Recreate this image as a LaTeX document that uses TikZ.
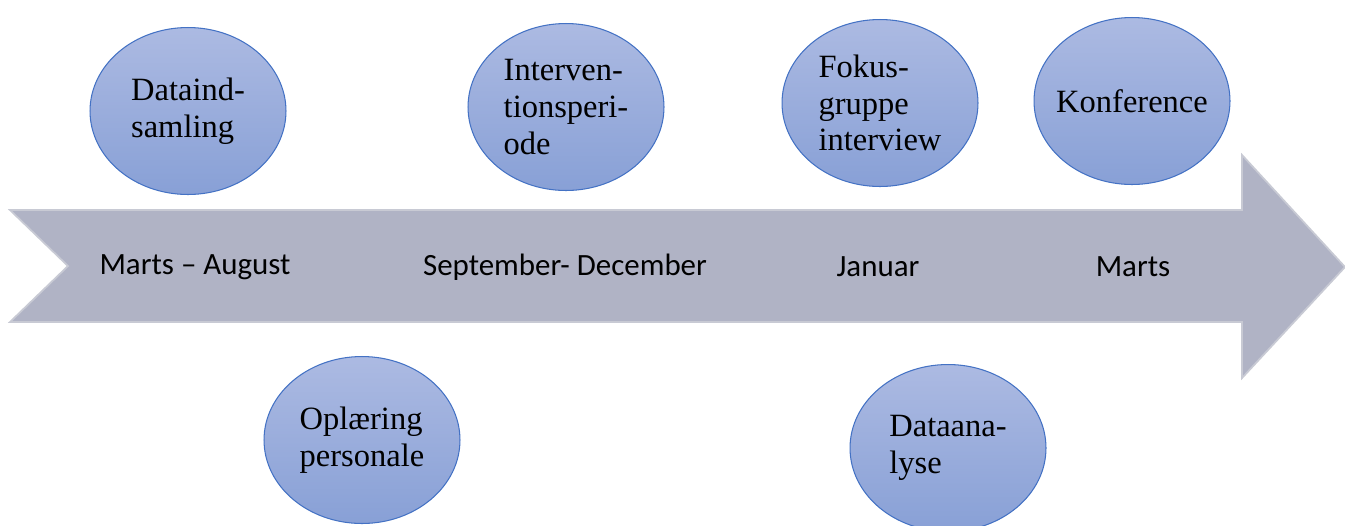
\documentclass[tikz,border=0pt]{standalone}
\usepackage{fontspec}
\setmainfont{Liberation Serif}
\newfontfamily\calfont{Carlito}
\usepackage{tikz}
\usetikzlibrary{shapes.geometric, positioning}

\definecolor{ellTop}{RGB}{172,186,226}
\definecolor{ellBot}{RGB}{136,160,214}
\definecolor{ellLine}{RGB}{68,114,196}
\definecolor{arrFill}{RGB}{176,179,197}
\definecolor{arrEdge}{RGB}{200,202,212}

\begin{document}
\begin{tikzpicture}[
  x=0.02cm, y=-0.02cm,
  phase/.style={
    ellipse,
    draw=ellLine,
    line width=0.6pt,
    top color=ellTop,
    bottom color=ellBot,
    minimum width=3.92cm,
    minimum height=3.34cm,
    inner sep=0pt,
    align=left,
    font=\fontsize{18.5}{20.8}\selectfont
    },
  month/.style={
    font=\calfont\fontsize{17.6}{20}\selectfont,
    inner sep=0pt
    }
]
\useasboundingbox (0,0) rectangle (1345,525);

% timeline arrow
\coordinate (tail top) at (10,210);
\coordinate (notch) at (68,266);
\coordinate (tail bot) at (10,322);
\coordinate (tip) at (1345,267);
\fill[arrFill, draw=arrEdge, line width=1pt, line join=miter]
  (tail top) -- (1242,210) -- (1242,155) -- (tip) -- (1242,378)
  -- (1242,322) -- (tail bot) -- (notch) -- cycle;

% months
\node[month] (marts1) at (195,267) {Marts – August};
\node[month] (septdec) at (565,267) {September- December};
\node[month] (januar) at (878,267) {Januar};
\node[month] (marts2) at (1133,267) {Marts};

% activities
\node[phase] (indsamling) at (188,111) {Dataind-\\samling};
\node[phase] (intervention) at (566,107) {Interven-\\tionsperi-\\ode};
\node[phase] (fokus) at (880,103) {Fokus-\\gruppe\\interview};
\node[phase] (konference) at (1132,101) {\makebox[0pt]{Konference}};
\node[phase] (oplaering) at (362,440) {Oplæring\\personale};
\node[phase] (analyse) at (948,448) {Dataana-\\lyse};

\end{tikzpicture}
\end{document}
